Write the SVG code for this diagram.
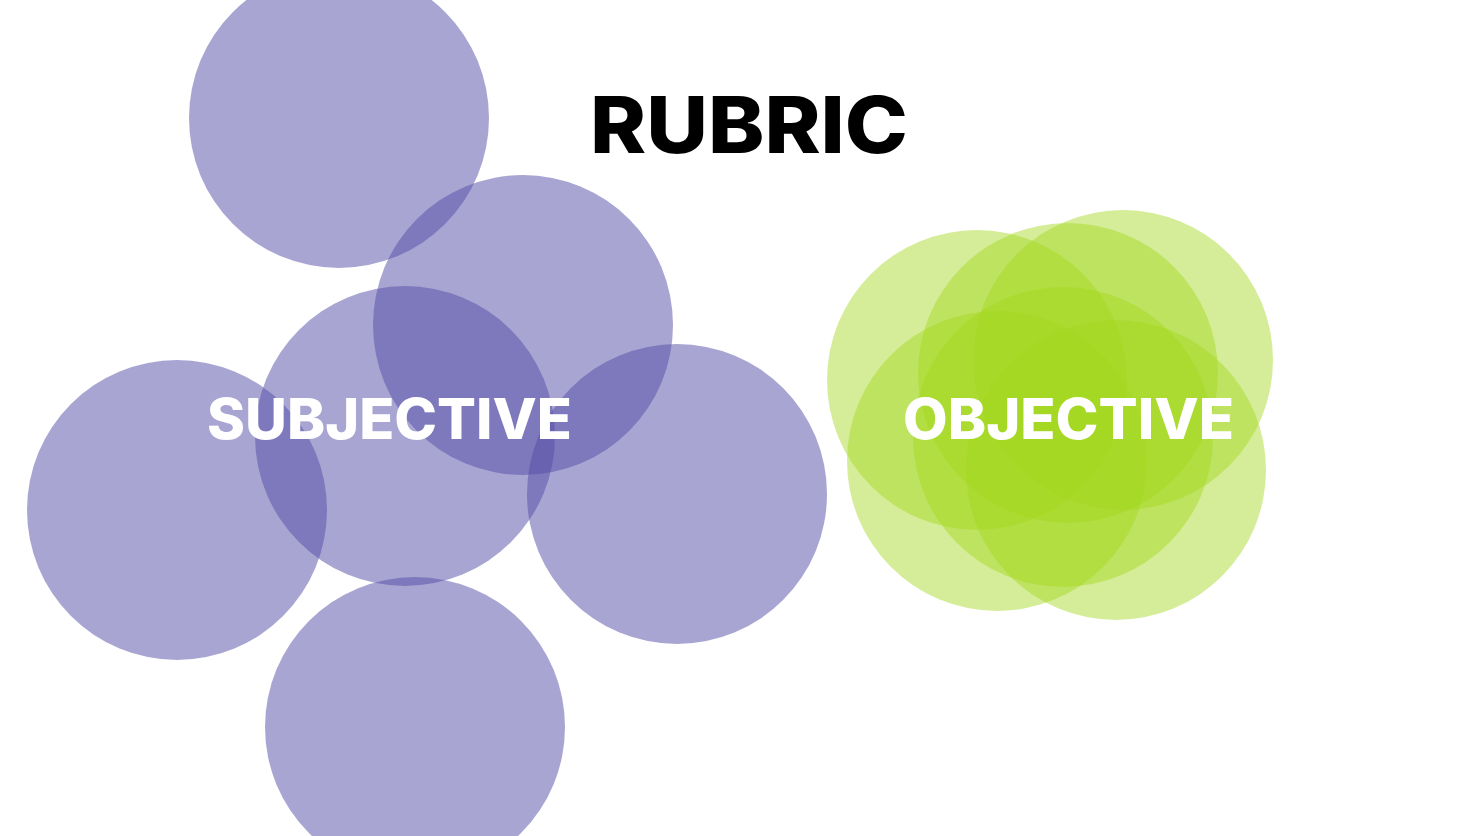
<svg xmlns="http://www.w3.org/2000/svg" width="1484" height="836" viewBox="0 0 1484 836">
<style>
.p{fill:#534ba6;fill-opacity:0.5}
.g{fill:#a4d81e;fill-opacity:0.46}
.t{font-family:Inter,"Noto Sans","Liberation Sans",sans-serif;font-weight:800}
</style>
<rect width="1484" height="836" fill="#ffffff"/>
<g id="subjective-cluster">
<circle class="p" cx="339" cy="118" r="150"/>
<circle class="p" cx="523" cy="325" r="150"/>
<circle class="p" cx="405" cy="436" r="150"/>
<circle class="p" cx="177" cy="510" r="150"/>
<circle class="p" cx="677" cy="494" r="150"/>
<circle class="p" cx="415" cy="727" r="150"/>
</g>
<g id="objective-cluster">
<circle class="g" cx="977" cy="380" r="150"/>
<circle class="g" cx="1068" cy="373" r="150"/>
<circle class="g" cx="1123" cy="360" r="150"/>
<circle class="g" cx="1063" cy="437" r="150"/>
<circle class="g" cx="997" cy="461" r="150"/>
<circle class="g" cx="1116" cy="470" r="150"/>
</g>
<g id="labels">
<text class="t" x="590" y="153" font-size="78" fill="#000000" textLength="318" lengthAdjust="spacingAndGlyphs">RUBRIC</text>
<text class="t" x="207" y="439" font-size="56" fill="#ffffff" textLength="365" lengthAdjust="spacingAndGlyphs">SUBJECTIVE</text>
<text class="t" x="903" y="439" font-size="56" fill="#ffffff" textLength="331" lengthAdjust="spacingAndGlyphs">OBJECTIVE</text>
</g>
<g id="connectors"></g>
</svg>
